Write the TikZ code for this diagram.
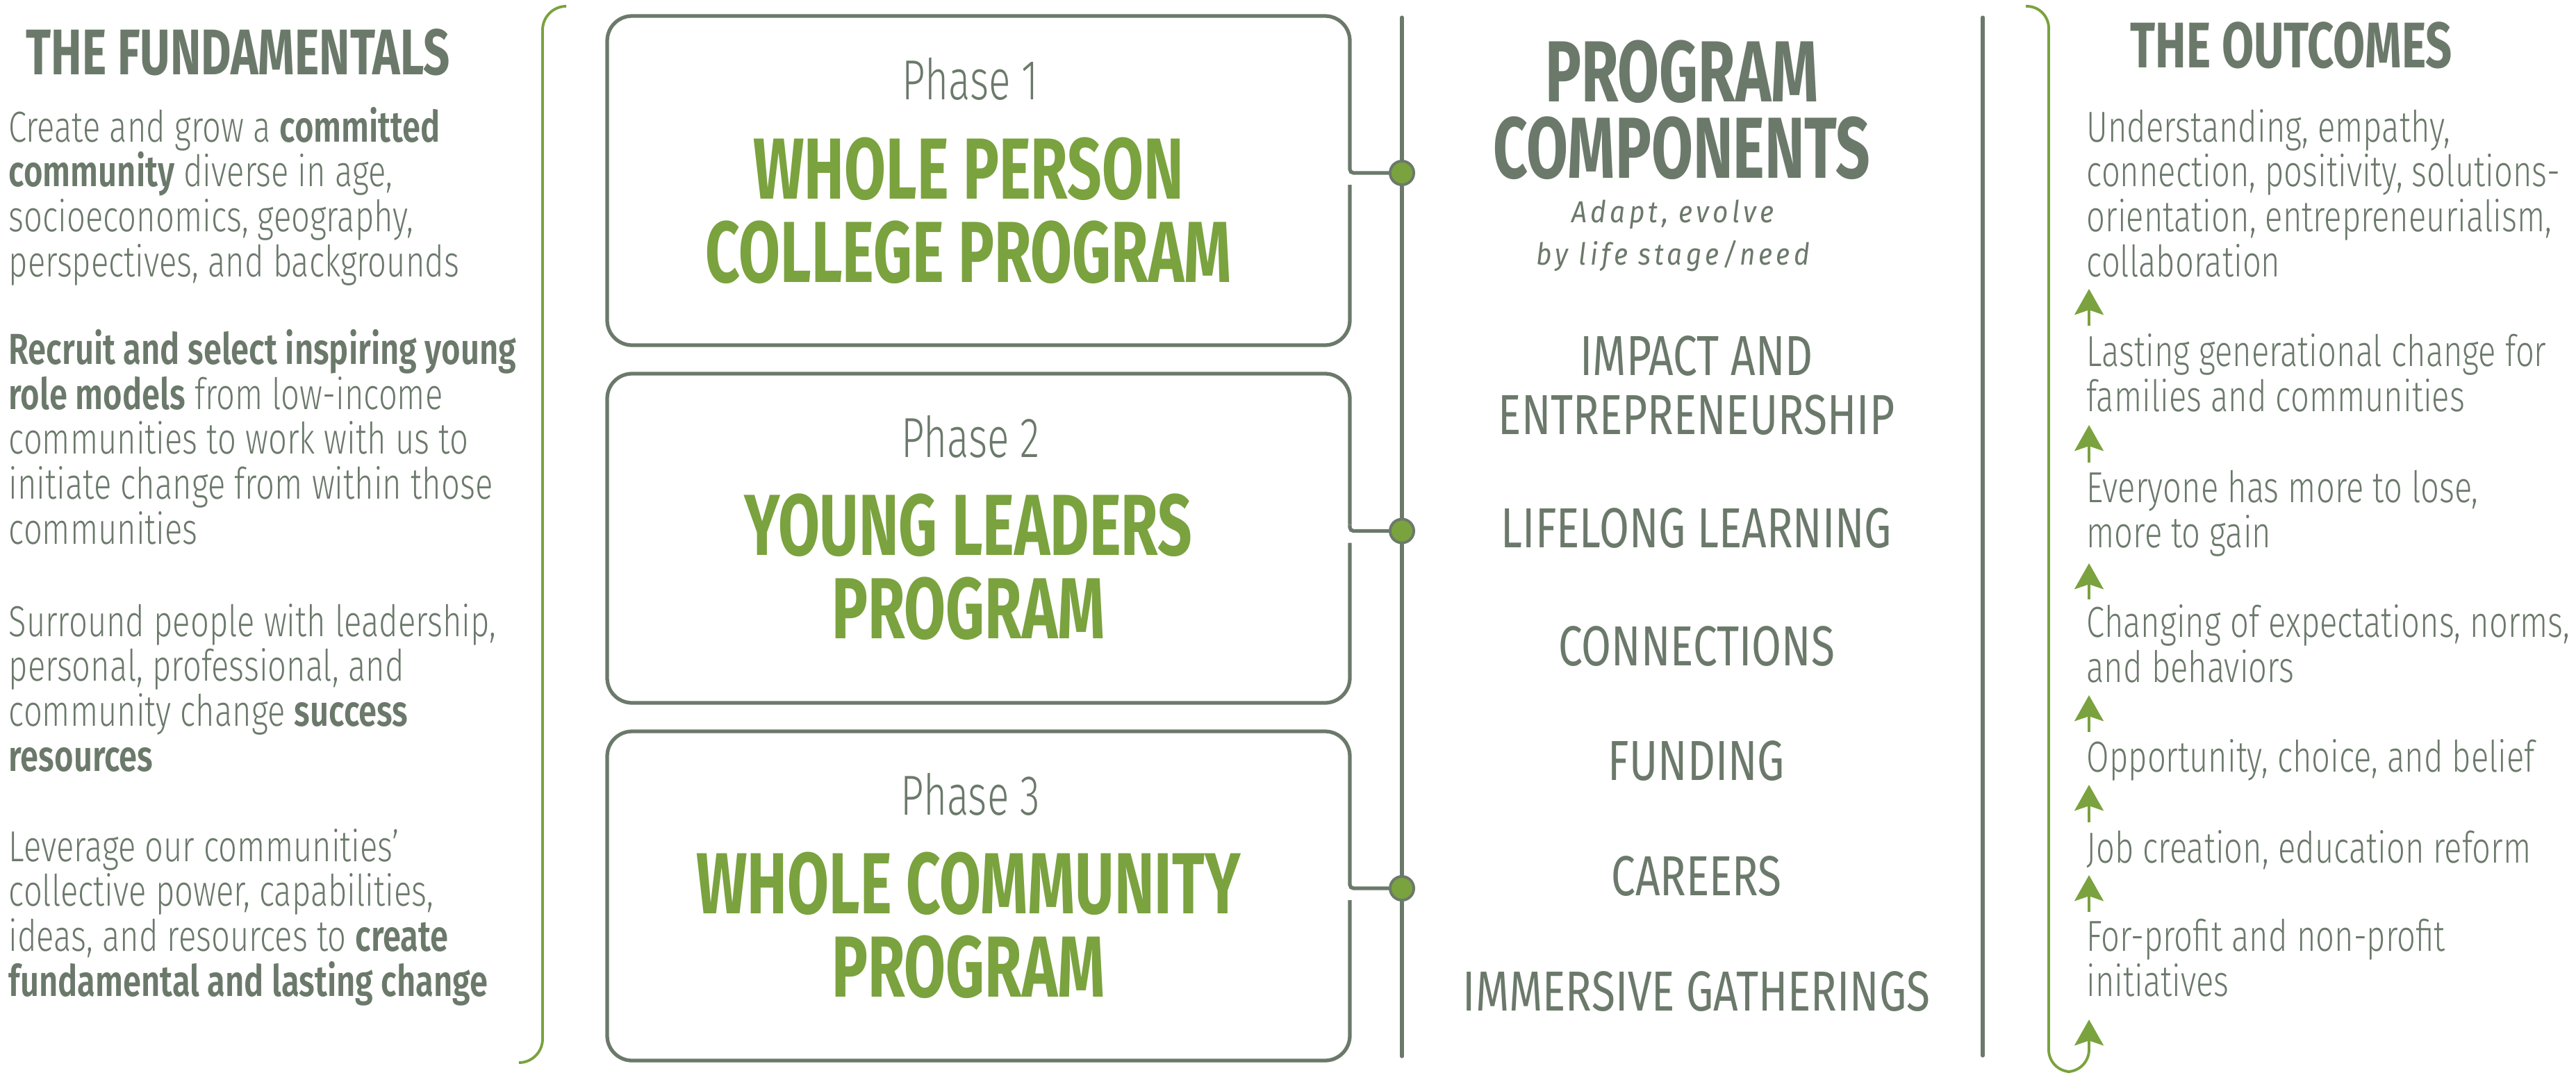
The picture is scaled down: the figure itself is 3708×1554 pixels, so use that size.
\documentclass[tikz,border=0pt]{standalone}
\usepackage{fontspec}
\usetikzlibrary{arrows.meta,calc}
\definecolor{sage}{RGB}{107,121,107}
\definecolor{leaf}{RGB}{122,162,62}
\newfontfamily\bodyfont{Fira Sans}[UprightFont={* Light}, BoldFont={* SemiBold}, FakeStretch=0.755]
\newfontfamily\headfont{Fira Sans}[UprightFont={* Bold}, FakeStretch=0.72]
\newfontfamily\titlefont{Fira Sans}[UprightFont={* Bold}, FakeStretch=0.695]
\newfontfamily\compfont{Fira Sans}[FakeStretch=0.765]
\newfontfamily\phasefont{Fira Sans}[UprightFont={* Light}, FakeStretch=0.72]
\newfontfamily\tagfont{Fira Sans}[UprightFont={* Italic}, FakeStretch=0.89, LetterSpace=12]
\tikzset{
  body/.style={font=\bodyfont\fontsize{17.75pt}{18.35pt}\selectfont, text=sage, align=left, anchor=base west, inner sep=0pt},
  colhead/.style={font=\headfont\fontsize{26.4pt}{30pt}\selectfont, text=sage, anchor=base west, inner sep=0pt},
  phaselbl/.style={font=\phasefont\fontsize{23.1pt}{26pt}\selectfont, text=sage, anchor=base, inner sep=0pt},
  phasettl/.style={font=\titlefont\fontsize{35.5pt}{33.86pt}\selectfont, text=leaf, align=center, anchor=base, inner sep=0pt},
  comphead/.style={font=\titlefont\fontsize{35.5pt}{31pt}\selectfont, text=sage, align=center, anchor=base, inner sep=0pt},
  comptag/.style={font=\tagfont\fontsize{12.4pt}{17.07pt}\selectfont, text=sage, align=center, anchor=base, inner sep=0pt},
  compitem/.style={font=\compfont\fontsize{23.1pt}{23.9pt}\selectfont, text=sage, align=center, anchor=base, inner sep=0pt},
  boxline/.style={draw=sage, line width=1.5pt},
  spine/.style={draw=sage, line width=1.45pt, line cap=round},
  bracket/.style={draw=leaf, line width=1.1pt},
  dot/.style={circle, fill=leaf, draw=sage, line width=1.1pt, minimum size=9.7pt, inner sep=0pt},
  uparrow/.style={draw=leaf, line width=1.1pt, -{Stealth[length=10.6pt,width=11.9pt,inset=2pt]}}
}
\begin{document}
\begin{tikzpicture}[x=0.01cm, y=-0.01cm]
\useasboundingbox (0,0) rectangle (3708,1554);
\fill[white] (0,0) rectangle (3708,1554);

% ---------- left column (multi-line nodes are anchored at the baseline of their last line) ----------
\node[colhead] (fundhead) at (37,107) {THE FUNDAMENTALS};
\node[body] (f1) at (12,398) {Create and grow a \textbf{committed}\\\textbf{community} diverse in age,\\socioeconomics, geography,\\perspectives, and backgrounds};
\node[body] (f2) at (12,783) {\textbf{Recruit and select inspiring young}\\\textbf{role models} from low-income\\communities to work with us to\\initiate change from within those\\communities};
\node[body] (f3) at (12,1110) {Surround people with leadership,\\personal, professional, and\\community change \textbf{success}\\\textbf{resources}};
\node[body] (f4) at (12,1434) {Leverage our communities’\\collective power, capabilities,\\ideas, and resources to \textbf{create}\\\textbf{fundamental and lasting change}};

% left bracket
\coordinate (lb0) at (815,9);
\coordinate (lb1) at (747,1530);
\draw[bracket, rounded corners=9.7pt] (lb0) -- (781,9) -- (781,1530) -- (lb1);

% ---------- spines ----------
\coordinate (s0) at (2018,25);
\coordinate (s1) at (2018,1521);
\draw[spine] (s0) -- (s1);
\coordinate (r0) at (2854,25);
\coordinate (r1) at (2854,1520);
\draw[spine] (r0) -- (r1);

% ---------- phase boxes (frames drawn from corner coordinates) ----------
\foreach \n/\top/\dy in {1/23/249, 2/538/764.5, 3/1053/1279}{
  \coordinate (b\n nw) at (874,\top);
  \coordinate (b\n ne) at (1943,\top);
  \coordinate (b\n sw) at (874,\top+474);
  \coordinate (b\n se) at (1943,\top+474);
  \coordinate (b\n c) at (1943,\dy);
  \coordinate (b\n lo) at (1943,\dy+17);
  \coordinate (b\n hi) at (1943,\dy-9);
}
\node[dot] (d1) at (2018,249) {};
\node[dot] (d2) at (2018,764.5) {};
\node[dot] (d3) at (2018,1279) {};

\foreach \n in {1,2,3}{
  \draw[boxline, rounded corners=10.2pt] (b\n lo) -- (b\n se) -- (b\n sw) -- (b\n nw) -- (b\n ne) -- (b\n hi);
  \draw[boxline, rounded corners=1.5pt] (b\n hi) -- (b\n c) -- (d\n);
}

\node[phaselbl] (ph1) at (1397,143) {Phase 1};
\node[phasettl] (t1) at (1394,406) {WHOLE PERSON\\COLLEGE PROGRAM};
\node[phaselbl] (ph2) at (1397,658) {Phase 2};
\node[phasettl] (t2) at (1394,919) {YOUNG LEADERS\\PROGRAM};
\node[phaselbl] (ph3) at (1397,1173) {Phase 3};
\node[phasettl] (t3) at (1394,1435) {WHOLE COMMUNITY\\PROGRAM};

% ---------- components ----------
\node[comphead] (pc) at (2421,256) {PROGRAM\\COMPONENTS};
\node[comptag] (pctag) at (2408,381) {Adapt, evolve\\by life stage/need};
\node[compitem] (c1) at (2442,625) {IMPACT AND\\ENTREPRENEURSHIP};
\node[compitem] (c2) at (2442,788) {LIFELONG LEARNING};
\node[compitem] (c3) at (2442,958) {CONNECTIONS};
\node[compitem] (c4) at (2442,1123) {FUNDING};
\node[compitem] (c5) at (2442,1289) {CAREERS};
\node[compitem] (c6) at (2442,1455) {IMMERSIVE GATHERINGS};

% ---------- outcomes ----------
\node[colhead] (outhead) at (3066,97) {THE OUTCOMES};
\node[body] (o1) at (3003,398) {Understanding, empathy,\\connection, positivity, solutions-\\orientation, entrepreneurialism,\\collaboration};
\node[body] (o2) at (3003,592) {Lasting generational change for\\families and communities};
\node[body] (o3) at (3003,788) {Everyone has more to lose,\\more to gain};
\node[body] (o4) at (3003,982) {Changing of expectations, norms,\\and behaviors};
\node[body] (o5) at (3003,1111) {Opportunity, choice, and belief};
\node[body] (o6) at (3003,1242) {Job creation, education reform};
\node[body] (o7) at (3003,1434) {For-profit and non-profit\\initiatives};

\foreach \i/\s/\e in {1/469/416, 2/666/612, 3/863/811, 4/1054/1001, 5/1184/1130, 6/1313/1260}{
  \coordinate (a\i s) at (3007,\s);
  \coordinate (a\i e) at (3007,\e);
  \draw[uparrow] (a\i s) -- (a\i e);
}
\coordinate (rb0) at (2916,9);
\coordinate (a7e) at (3007,1468);
\draw[bracket, -{Stealth[length=10.6pt,width=11.9pt,inset=2pt]}] (rb0) [rounded corners=9pt] -- (2949,9) -- (2949,1543) -- (3007,1543) [sharp corners] -- (a7e);
\end{tikzpicture}
\end{document}
